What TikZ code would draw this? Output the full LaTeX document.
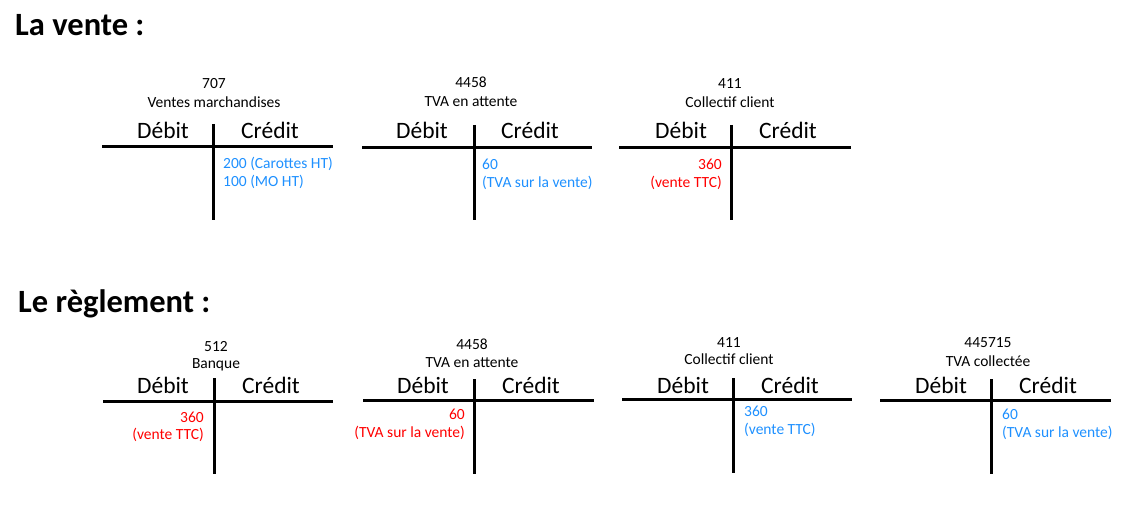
\documentclass[tikz,border=0pt]{standalone}
\usepackage{fontspec}
\setmainfont{Carlito}
\usepackage{color}
\definecolor{credblue}{RGB}{30,144,255}
\definecolor{debred}{RGB}{255,0,0}

\begin{document}
\begin{tikzpicture}[line cap=butt,x=1pt,y=-1pt,
  titre/.style={font=\fontsize{32.5}{38}\selectfont\bfseries,anchor=base west,inner sep=0pt},
  compte/.style={font=\fontsize{15.5}{18}\selectfont,anchor=base,inner sep=0pt},
  entete/.style={font=\fontsize{23.5}{27}\selectfont,anchor=base,inner sep=0pt},
  debit/.style={font=\fontsize{15.5}{18}\selectfont,text=debred,anchor=base east,inner sep=0pt},
  credit/.style={font=\fontsize{15.5}{18}\selectfont,text=credblue,anchor=base west,inner sep=0pt},
  trait/.style={line width=3pt}]
      \useasboundingbox (0,0) rectangle (1137,524);
      % la vente
      \node[titre] (vente) at (15,36) {La vente :};
      % 707
      \draw[trait] (102,146)-- (333,146);
      \draw[trait] (213,124)-- (213,220);
      \node[compte] (a707) at (214,89) {707};
      \node[compte] (a707nom) at (214,108) {Ventes marchandises};
      \node[entete] (a707d) at (163,139) {Débit};
      \node[entete] (a707c) at (270,139) {Crédit};
      \node[credit] (a707c1) at (223,168) {200 (Carottes HT)};
      \node[credit] (a707c2) at (223,186) {100 (MO HT)};
      % 4458
      \draw[trait] (362,147)-- (592,147);
      \draw[trait] (474,125)-- (474,220);
      \node[compte] (a4458) at (471,88) {4458};
      \node[compte] (a4458nom) at (471,107) {TVA en attente};
      \node[entete] (a4458d) at (422,139) {Débit};
      \node[entete] (a4458c) at (530,139) {Crédit};
      \node[credit] (a4458c1) at (482,169) {60};
      \node[credit] (a4458c2) at (482,187) {(TVA sur la vente)};
      % 411
      \draw[trait] (619,147)-- (851,147);
      \draw[trait] (731,125)-- (731,220);
      \node[compte] (a411) at (730,89) {411};
      \node[compte] (a411nom) at (730,108) {Collectif client};
      \node[entete] (a411d) at (681,139) {Débit};
      \node[entete] (a411c) at (788,139) {Crédit};
      \node[debit] (a411d1) at (722,169) {360};
      \node[debit] (a411d2) at (722,187) {(vente TTC)};
      % le reglement
      \node[titre] (reglement) at (18,312) {Le règlement :};
      % 512
      \draw[trait] (103,401)-- (333,401);
      \draw[trait] (214,378)-- (214,474);
      \node[compte] (b512) at (216,351) {512};
      \node[compte] (b512nom) at (216,368) {Banque};
      \node[entete] (b512d) at (163,393) {Débit};
      \node[entete] (b512c) at (271,393) {Crédit};
      \node[debit] (b512d1) at (204,422) {360};
      \node[debit] (b512d2) at (204,439) {(vente TTC)};
      % 4458
      \draw[trait] (363,400)-- (594,400);
      \draw[trait] (474,379)-- (474,474);
      \node[compte] (b4458) at (472,349) {4458};
      \node[compte] (b4458nom) at (472,367) {TVA en attente};
      \node[entete] (b4458d) at (423,393) {Débit};
      \node[entete] (b4458c) at (531,393) {Crédit};
      \node[debit] (b4458d1) at (465,419) {60};
      \node[debit] (b4458d2) at (465,437) {(TVA sur la vente)};
      % 411
      \draw[trait] (622,399)-- (852,399);
      \draw[trait] (733,378)-- (733,473);
      \node[compte] (b411) at (729,347) {411};
      \node[compte] (b411nom) at (729,364) {Collectif client};
      \node[entete] (b411d) at (683,393) {Débit};
      \node[entete] (b411c) at (790,393) {Crédit};
      \node[credit] (b411c1) at (744,416) {360};
      \node[credit] (b411c2) at (744,434) {(vente TTC)};
      % 445715
      \draw[trait] (880,400)-- (1111,400);
      \draw[trait] (991,379)-- (991,474);
      \node[compte] (b445715) at (988,347) {445715};
      \node[compte] (b445715nom) at (988,366) {TVA collectée};
      \node[entete] (b445715d) at (941,393) {Débit};
      \node[entete] (b445715c) at (1048,393) {Crédit};
      \node[credit] (b445715c1) at (1002,419) {60};
      \node[credit] (b445715c2) at (1002,437) {(TVA sur la vente)};
    \end{tikzpicture}
\end{document}
